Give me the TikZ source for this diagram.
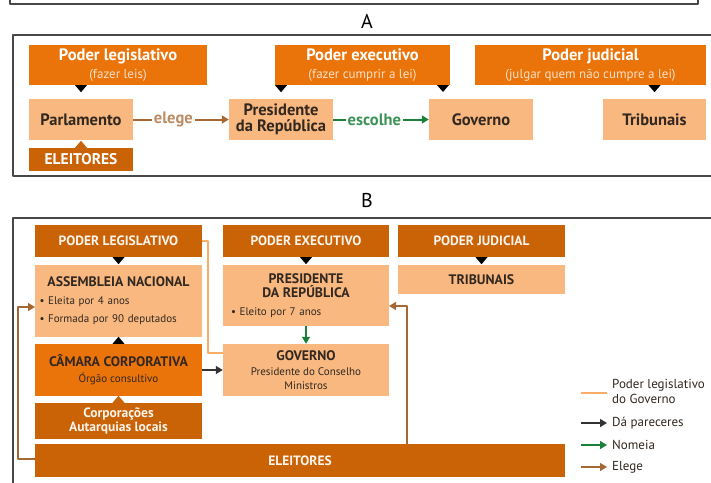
\documentclass[tikz,border=0pt]{standalone}
\usepackage{fontspec}
\setmainfont{PT Sans}
\usepackage{xcolor}
\usetikzlibrary{arrows.meta,calc}

\definecolor{laranja}{RGB}{234,116,10}
\definecolor{laranjaesc}{RGB}{202,98,6}
\definecolor{pessego}{RGB}{248,184,128}
\definecolor{castanho}{RGB}{166,104,50}
\definecolor{castanhotxt}{RGB}{188,140,100}
\definecolor{verde}{RGB}{26,128,58}
\definecolor{moldura}{RGB}{72,72,72}
\definecolor{tinta}{RGB}{50,40,32}

% small triangles that join a box to the one below / above it
\newcommand{\trdown}[2][black]{\fill[#1] (#2) ++(-6,0) -- ++(12,0) -- ++(-6,7) -- cycle;}
\newcommand{\trup}[2][black]{\fill[#1] (#2) ++(-6,0) -- ++(12,0) -- ++(-6,-7) -- cycle;}
\newcommand{\subt}[1]{{\mdseries\fontsize{13}{15}\selectfont\color{white!78!laranja}#1}}
\newcommand{\tituloB}{\bfseries\fontsize{13.8}{14}\selectfont}

\begin{document}
\begin{tikzpicture}[x=1pt,y=-1pt,>=Stealth,line join=round,
  cabA/.style={rectangle,inner sep=0pt,align=center,fill=laranja,text=white,
    font=\bfseries\fontsize{16.5}{18}\selectfont},
  caixaA/.style={rectangle,inner sep=0pt,align=center,fill=pessego,text=tinta,
    font=\bfseries\fontsize{16.5}{16}\selectfont},
  cabB/.style={rectangle,inner sep=0pt,align=center,fill=laranjaesc,text=white!92!laranja,
    font=\bfseries\fontsize{13.5}{14}\selectfont},
  caixaB/.style={rectangle,inner sep=0pt,fill=pessego,text=tinta,
    font=\fontsize{11}{18}\selectfont},
  elege/.style={castanho,line width=1.4pt},
  nomeia/.style={verde,line width=1.4pt},
  parecer/.style={black!80,line width=1.4pt},
  legisl/.style={pessego!80!orange,line width=1.2pt},
  ponta/.style={-{Triangle[length=7pt,width=8pt]}},
  legenda/.style={anchor=west,inner sep=0pt,text=tinta,align=left,
    font=\fontsize{13}{15}\selectfont}]
  \useasboundingbox[fill=white] (0,0) rectangle (711,482);

  % frames
  \draw[moldura,line width=1.6pt] (10,-2) -- (10,4) -- (698,4) -- (698,-2);
  \draw[moldura,line width=1.6pt] (725,35) -- (13,35) -- (13,176) -- (725,176);
  \draw[moldura,line width=1.6pt] (725,218) -- (13,218) -- (13,490);
  \node[font=\fontsize{20}{20}\selectfont] (rotA) at (367,21) {A};
  \node[font=\fontsize{20}{20}\selectfont] (rotB) at (367,200) {B};

  %%% A
  \node[cabA,minimum width=178,minimum height=40] (legA) at (118,65) {Poder legislativo\\\subt{(fazer leis)}};
  \node[cabA,minimum width=175,minimum height=40] (exeA) at (362.5,65) {Poder executivo\\\subt{(fazer cumprir a lei)}};
  \node[cabA,minimum width=231,minimum height=40] (judA) at (590.5,65) {Poder judicial\\\subt{(julgar quem não cumpre a lei)}};
  \node[caixaA,minimum width=104,minimum height=41] (parl) at (81,119.5) {Parlamento};
  \node[caixaA,minimum width=104,minimum height=41] (pres) at (281,119.5) {Presidente\\da República};
  \node[caixaA,minimum width=104,minimum height=41] (gov) at (481,119.5) {Governo};
  \node[caixaA,minimum width=103,minimum height=41] (trib) at (654.5,119.5) {Tribunais};
  \node[caixaA,fill=laranjaesc,text=white,minimum width=104,minimum height=23,
    font=\bfseries\fontsize{15.5}{15}\selectfont] (eleA) at (81,159.5) {ELEITORES};
  \coordinate (setaGov) at (443,85);
  \trdown{parl.north |- legA.south}
  \trdown{pres.north |- exeA.south}
  \trdown{setaGov}
  \trdown{trib.north |- judA.south}
  \trup[laranjaesc]{eleA.north}
  \draw[elege,line width=2pt,ponta] (parl) -- node[pos=.42,fill=white,inner sep=2pt,text=castanhotxt,
    font=\bfseries\fontsize{16.5}{16}\selectfont]{elege} (pres);
  \draw[nomeia,line width=2pt,ponta] (pres) -- node[pos=.43,fill=white,inner sep=2pt,text=verde!85!white,
    font=\bfseries\fontsize{16.5}{16}\selectfont]{escolhe} (gov);

  %%% B
  \node[cabB,minimum width=167,minimum height=32] (legB) at (118.5,241) {PODER LEGISLATIVO};
  \node[cabB,minimum width=166,minimum height=32] (exeB) at (306,241) {PODER EXECUTIVO};
  \node[cabB,minimum width=167,minimum height=32] (judB) at (481.5,241) {PODER JUDICIAL};
  \node[caixaB,minimum width=167,minimum height=72,text width=158] (assem) at (118.5,301)
    {{\centering\bfseries\fontsize{13.8}{18}\selectfont ASSEMBLEIA NACIONAL\par}\raggedright
     • Eleita por 4 anos\par • Formada por 90 deputados\par};
  \node[caixaB,fill=laranja,minimum width=167,minimum height=52,align=center,
    font=\fontsize{11}{13}\selectfont] (cam) at (118.5,370)
    {{\tituloB CÂMARA CORPORATIVA}\\[3pt]Órgão consultivo};
  \node[cabB,font=\bfseries\fontsize{13.5}{14.5}\selectfont,minimum width=167,minimum height=36] (corp) at (118.5,421)
    {Corporações\\Autarquias locais};
  \node[cabB,minimum width=530,minimum height=33] (eleB) at (300,460.5) {ELEITORES};
  \node[caixaB,minimum width=166,minimum height=61,text width=150] (presB) at (306,295.5)
    {{\centering\tituloB PRESIDENTE\\DA REPÚBLICA\par}\raggedright
     • Eleito por 7 anos\par};
  \node[caixaB,minimum width=166,minimum height=52,align=center,font=\fontsize{11}{14}\selectfont] (govB) at (306,370)
    {{\tituloB GOVERNO}\\[1pt]Presidente do Conselho\\Ministros};
  \node[caixaB,minimum width=167,minimum height=29,font=\tituloB] (tribB) at (481.5,279.5) {TRIBUNAIS};
  \trdown{legB.south}
  \trdown{exeB.south}
  \trdown{judB.south}
  \trup{cam.north}
  \trup[laranjaesc]{corp.north}

  % connectors
  \coordinate (dobraL) at (208,353);
  \coordinate (cantoE1) at (18,459);
  \coordinate (cantoE2) at (18,307);
  \coordinate (entAssem) at (35,307);
  \coordinate (saiEle) at (407,444);
  \coordinate (cantoE3) at (407,306);
  \coordinate (entPres) at (389,306);
  \draw[legisl] (legB.east) -| (dobraL) -- (dobraL -| govB.west);
  \draw[parecer,ponta] (cam.east) -- (govB.west);
  \draw[nomeia,ponta] (presB.south) -- (govB.north);
  \draw[elege,ponta] (eleB.west |- cantoE1) -- (cantoE1) -- (cantoE2) -- (entAssem);
  \draw[elege,ponta] (saiEle) -- (cantoE3) -- (entPres);

  % legend
  \coordinate (lg1a) at (581,393); \coordinate (lg1b) at (607,393);
  \coordinate (lg2a) at (581,423); \coordinate (lg2b) at (607,423);
  \coordinate (lg3a) at (581,445); \coordinate (lg3b) at (607,445);
  \coordinate (lg4a) at (581,467); \coordinate (lg4b) at (607,467);
  \draw[legisl,line width=1.6pt] (lg1a) -- (lg1b);
  \draw[parecer,ponta] (lg2a) -- (lg2b);
  \draw[nomeia,ponta] (lg3a) -- (lg3b);
  \draw[elege,ponta] (lg4a) -- (lg4b);
  \node[legenda] (txt1) at (612,391) {Poder legislativo\\do Governo};
  \node[legenda] (txt2) at (612,423) {Dá pareceres};
  \node[legenda] (txt3) at (612,445) {Nomeia};
  \node[legenda] (txt4) at (612,467) {Elege};
\end{tikzpicture}
\end{document}
